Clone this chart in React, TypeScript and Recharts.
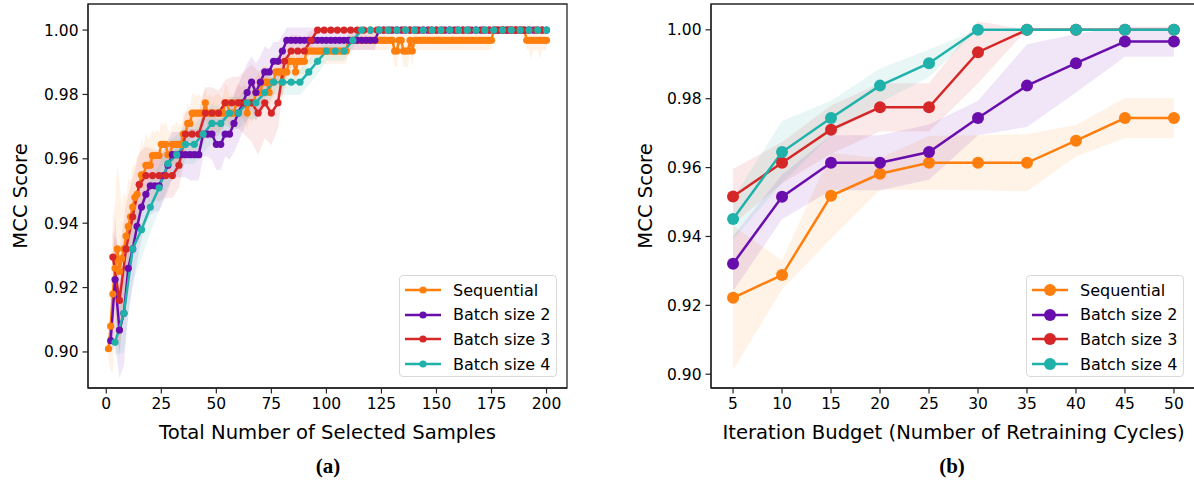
import { ComposedChart, Line, Area, XAxis, YAxis, ReferenceArea } from 'recharts';

const ORANGE = '#ff7f0e';
const PURPLE = '#6a0dad';
const RED = '#d62728';
const TEAL = '#20b2aa';

const SERIES_NAMES = ['Sequential', 'Batch size 2', 'Batch size 3', 'Batch size 4'];
const COLORS = [ORANGE, PURPLE, RED, TEAL];

// ---- panel (a): MCC vs total number of selected samples ----
const SAMPLE_TICKS = [0, 25, 50, 75, 100, 125, 150, 175, 200];
const MCC_TICKS = [0.9, 0.92, 0.94, 0.96, 0.98, 1.0];

// sequential, one point per sample (x = 1..200)
const seqMean = [
    0.901, 0.908, 0.918, 0.926, 0.932, 0.925, 0.929, 0.932, 0.936, 0.939,
    0.942, 0.945, 0.948, 0.949, 0.952, 0.955, 0.955, 0.958, 0.958, 0.958,
    0.961, 0.961, 0.961, 0.961, 0.9645, 0.9645, 0.9645, 0.9613, 0.9613, 0.9645,
    0.9645, 0.9645, 0.9645, 0.9645, 0.9677, 0.9677, 0.971, 0.971, 0.9742, 0.9742,
    0.9742, 0.9742, 0.9742, 0.9742, 0.9774, 0.9742, 0.9742, 0.9742, 0.9742, 0.9742,
    0.9742, 0.9742, 0.9742, 0.9774, 0.9774, 0.9742, 0.9742, 0.9742, 0.9774, 0.9774,
    0.9774, 0.9774, 0.9774, 0.9742, 0.9774, 0.9774, 0.9774, 0.9806, 0.9806, 0.9806,
    0.9838, 0.9838, 0.9838, 0.9806, 0.9838, 0.9838, 0.987, 0.987, 0.987, 0.9838,
    0.987, 0.987, 0.9903, 0.9903, 0.9903, 0.987, 0.9903, 0.9903, 0.9903, 0.9903,
    0.9935, 0.9935, 0.9935, 0.9935, 0.9935, 0.9935, 0.9935, 0.9935, 0.9935, 0.9935,
    0.9935, 0.9935, 0.9935, 0.9935, 0.9935, 0.9935, 0.9935, 0.9935, 0.9935, 0.9968,
    0.9968, 0.9968, 0.9968, 0.9968, 0.9968, 0.9968, 0.9968, 0.9968, 0.9968, 0.9968,
    0.9968, 0.9968, 0.9968, 0.9968, 0.9968, 0.9968, 0.9968, 0.9968, 0.9968, 0.9968,
    0.9935, 0.9935, 0.9968, 0.9968, 0.9935, 0.9935, 0.9935, 0.9968, 0.9935, 0.9968,
    0.9968, 0.9968, 0.9968, 0.9968, 0.9968, 0.9968, 0.9968, 0.9968, 0.9968, 0.9968,
    0.9968, 0.9968, 0.9968, 0.9968, 0.9968, 0.9968, 0.9968, 0.9968, 0.9968, 0.9968,
    0.9968, 0.9968, 0.9968, 0.9968, 0.9968, 0.9968, 0.9968, 0.9968, 0.9968, 0.9968,
    0.9968, 0.9968, 0.9968, 0.9968, 0.9968, 1.0, 1.0, 1.0, 1.0, 1.0,
    1.0, 1.0, 1.0, 1.0, 1.0, 1.0, 1.0, 1.0, 1.0, 1.0,
    0.9968, 0.9968, 0.9968, 0.9968, 0.9968, 0.9968, 0.9968, 0.9968, 0.9968, 0.9968,
];
const seqStd = [
    0.003, 0.014, 0.024, 0.02, 0.026, 0.028, 0.016, 0.018, 0.012, 0.015,
    0.011, 0.013, 0.01, 0.012, 0.009, 0.011, 0.009, 0.01, 0.008, 0.009,
    0.008, 0.007, 0.008, 0.007, 0.007, 0.006, 0.007, 0.008, 0.007, 0.006,
    0.006, 0.007, 0.006, 0.006, 0.007, 0.006, 0.006, 0.005, 0.006, 0.006,
    0.005, 0.006, 0.005, 0.006, 0.005, 0.005, 0.006, 0.005, 0.005, 0.006,
    0.006, 0.005, 0.005, 0.006, 0.005, 0.005, 0.006, 0.005, 0.005, 0.006,
    0.005, 0.005, 0.006, 0.005, 0.005, 0.006, 0.005, 0.005, 0.006, 0.005,
    0.005, 0.005, 0.005, 0.006, 0.005, 0.005, 0.005, 0.005, 0.006, 0.005,
    0.005, 0.005, 0.004, 0.004, 0.004, 0.005, 0.004, 0.004, 0.004, 0.004,
    0.004, 0.004, 0.004, 0.004, 0.004, 0.004, 0.004, 0.004, 0.004, 0.004,
    0.004, 0.004, 0.004, 0.004, 0.004, 0.004, 0.004, 0.004, 0.004, 0.003,
    0.003, 0.003, 0.003, 0.003, 0.003, 0.003, 0.003, 0.003, 0.003, 0.003,
    0.003, 0.003, 0.003, 0.003, 0.003, 0.003, 0.003, 0.003, 0.003, 0.003,
    0.005, 0.005, 0.003, 0.003, 0.005, 0.005, 0.005, 0.003, 0.005, 0.003,
    0.003, 0.003, 0.003, 0.003, 0.003, 0.003, 0.003, 0.003, 0.003, 0.003,
    0.003, 0.003, 0.003, 0.003, 0.003, 0.003, 0.003, 0.003, 0.003, 0.003,
    0.003, 0.003, 0.003, 0.003, 0.003, 0.003, 0.003, 0.003, 0.003, 0.003,
    0.003, 0.003, 0.003, 0.003, 0.003, 0, 0, 0, 0, 0,
    0, 0, 0, 0, 0, 0, 0, 0, 0, 0,
    0.003, 0.003, 0.006, 0.003, 0.003, 0.003, 0.006, 0.003, 0.003, 0.003,
];

// batch size 2 (x = 2, 4, ..., 200)
const b2Mean = [
    0.9035, 0.9225, 0.9068, 0.912, 0.926, 0.932, 0.939, 0.945, 0.949, 0.9516,
    0.9516, 0.9516, 0.9548, 0.958, 0.9613, 0.9613, 0.9613, 0.9613, 0.9613, 0.9613,
    0.9613, 0.9677, 0.9677, 0.9677, 0.9645, 0.9645, 0.9677, 0.9677, 0.971, 0.9742,
    0.9774, 0.9806, 0.9838, 0.9806, 0.9838, 0.987, 0.987, 0.9903, 0.9903, 0.9935,
    0.9968, 0.9968, 0.9968, 0.9968, 0.9968, 0.9968, 0.9968, 0.9968, 0.9968, 0.9968,
    0.9968, 0.9968, 0.9968, 0.9968, 0.9968, 0.9968, 0.9968, 0.9968, 0.9968, 0.9968,
    0.9968, 1.0, 1.0, 1.0, 1.0, 1.0, 1.0, 1.0, 1.0, 1.0,
    1.0, 1.0, 1.0, 1.0, 1.0, 1.0, 1.0, 1.0, 1.0, 1.0,
    1.0, 1.0, 1.0, 1.0, 1.0, 1.0, 1.0, 1.0, 1.0, 1.0,
    1.0, 1.0, 1.0, 1.0, 1.0, 1.0, 1.0, 1.0, 1.0, 1.0,
];
const b2Std = [
    0.004, 0.02, 0.015, 0.016, 0.014, 0.012, 0.011, 0.01, 0.009, 0.009,
    0.008, 0.008, 0.008, 0.008, 0.007, 0.007, 0.007, 0.007, 0.008, 0.008,
    0.008, 0.007, 0.007, 0.008, 0.008, 0.008, 0.007, 0.008, 0.009, 0.009,
    0.009, 0.009, 0.008, 0.009, 0.008, 0.008, 0.007, 0.006, 0.006, 0.005,
    0.004, 0.004, 0.004, 0.004, 0.004, 0.004, 0.004, 0.003, 0.003, 0.003,
    0.003, 0.003, 0.003, 0.003, 0.003, 0.003, 0.003, 0.003, 0.003, 0.003,
    0.003, 0, 0, 0, 0, 0, 0, 0, 0, 0,
    0, 0, 0, 0, 0, 0, 0, 0, 0, 0,
    0, 0, 0, 0, 0, 0, 0, 0, 0, 0,
    0, 0, 0, 0, 0, 0, 0, 0, 0, 0,
];

// batch size 3 (x = 3, 6, ..., 198)
const b3Mean = [
    0.9295, 0.916, 0.932, 0.942, 0.952, 0.9548, 0.9548, 0.9548, 0.9548, 0.9548,
    0.958, 0.9677, 0.9677, 0.9677, 0.9742, 0.9742, 0.9742, 0.9774, 0.9774, 0.9774,
    0.9774, 0.9774, 0.9742, 0.9774, 0.9742, 0.9774, 0.9903, 0.9935, 0.9935, 0.9935,
    0.9968, 1.0, 1.0, 1.0, 1.0, 1.0, 1.0, 1.0, 1.0, 1.0,
    1.0, 1.0, 1.0, 1.0, 1.0, 1.0, 1.0, 1.0, 1.0, 1.0,
    1.0, 1.0, 1.0, 1.0, 1.0, 1.0, 1.0, 1.0, 1.0, 1.0,
    1.0, 1.0, 1.0, 1.0, 1.0, 1.0,
];
const b3Std = [
    0.008, 0.016, 0.014, 0.012, 0.01, 0.009, 0.008, 0.008, 0.007, 0.007,
    0.007, 0.007, 0.007, 0.007, 0.008, 0.008, 0.007, 0.007, 0.008, 0.008,
    0.01, 0.012, 0.013, 0.011, 0.01, 0.008, 0.006, 0.005, 0.005, 0.004,
    0.003, 0, 0, 0, 0, 0, 0, 0, 0, 0,
    0, 0, 0, 0, 0, 0, 0, 0, 0, 0,
    0, 0, 0, 0, 0, 0, 0, 0, 0, 0,
    0, 0, 0, 0, 0, 0,
];

// batch size 4 (x = 4, 8, ..., 200)
const b4Mean = [
    0.903, 0.912, 0.932, 0.938, 0.945, 0.951, 0.9585, 0.9613, 0.9645, 0.9645,
    0.9677, 0.971, 0.971, 0.9742, 0.9742, 0.9774, 0.9774, 0.9806, 0.9838, 0.9838,
    0.9838, 0.9838, 0.987, 0.9903, 0.9935, 0.9935, 0.9935, 0.9968, 1.0, 1.0,
    1.0, 1.0, 1.0, 1.0, 1.0, 1.0, 1.0, 1.0, 1.0, 1.0,
    1.0, 1.0, 1.0, 1.0, 1.0, 1.0, 1.0, 1.0, 1.0, 1.0,
];
const b4Std = [
    0.004, 0.012, 0.01, 0.009, 0.008, 0.007, 0.007, 0.006, 0.006, 0.006,
    0.006, 0.006, 0.005, 0.005, 0.005, 0.005, 0.005, 0.005, 0.004, 0.004,
    0.004, 0.004, 0.004, 0.004, 0.003, 0.003, 0.003, 0.003, 0, 0,
    0, 0, 0, 0, 0, 0, 0, 0, 0, 0,
    0, 0, 0, 0, 0, 0, 0, 0, 0, 0,
];

// ---- panel (b): MCC vs iteration budget ----
const ITERATIONS = [5, 10, 15, 20, 25, 30, 35, 40, 45, 50];
const seqIterMean = [0.9222, 0.9288, 0.9518, 0.9582, 0.9614, 0.9614, 0.9614, 0.9678, 0.9744, 0.9744];
const seqIterStd = [0.021, 0.0042, 0.0124, 0.0046, 0.0078, 0.008, 0.0083, 0.0046, 0.0058, 0.0058];
const b2IterMean = [0.9321, 0.9515, 0.9614, 0.9614, 0.9645, 0.9744, 0.9838, 0.9903, 0.9966, 0.9966];
const b2IterStd = [0.008, 0.0065, 0.008, 0.008, 0.008, 0.005, 0.012, 0.0085, 0.0044, 0.0044];
const b3IterMean = [0.9516, 0.9614, 0.971, 0.9775, 0.9775, 0.9935, 1.0, 1.0, 1.0, 1.0];
const b3IterStd = [0.008, 0.006, 0.007, 0.007, 0.007, 0.009, 0, 0, 0, 0];
const b4IterMean = [0.9451, 0.9645, 0.9744, 0.9838, 0.9903, 1.0, 1.0, 1.0, 1.0, 1.0];
const b4IterStd = [0.006, 0.009, 0.005, 0.005, 0.004, 0, 0, 0, 0, 0];

type Row = { x: number; y: number; band: [number, number] };

const toRows = (xs: number[], mean: number[], std: number[]): Row[] =>
    mean.map((m, i) => ({ x: xs[i], y: m, band: [m - std[i], m + std[i]] }));

const stepXs = (step: number, n: number) => Array.from({ length: n }, (_, i) => (i + 1) * step);

const panelA = [
    toRows(stepXs(1, seqMean.length), seqMean, seqStd),
    toRows(stepXs(2, b2Mean.length), b2Mean, b2Std),
    toRows(stepXs(3, b3Mean.length), b3Mean, b3Std),
    toRows(stepXs(4, b4Mean.length), b4Mean, b4Std),
];

const panelB = [
    toRows(ITERATIONS, seqIterMean, seqIterStd),
    toRows(ITERATIONS, b2IterMean, b2IterStd),
    toRows(ITERATIONS, b3IterMean, b3IterStd),
    toRows(ITERATIONS, b4IterMean, b4IterStd),
];

const FONT = '"DejaVu Sans", sans-serif';
const AXIS_COLOR = '#262626';
const tickStyle = { fill: '#000', fontSize: 15.5, fontFamily: FONT };

type PanelProps = {
    series: Row[][];
    xDomain: [number, number];
    yDomain: [number, number];
    xTicks: number[];
    width: number;
    margin: { top: number; right: number; bottom: number; left: number };
    dotR: number;
};

function Panel({ series, xDomain, yDomain, xTicks, width, margin, dotR }: PanelProps) {
    return (
        <ComposedChart width={width} height={486} margin={margin}>
            <XAxis
                type="number"
                dataKey="x"
                domain={xDomain}
                ticks={xTicks}
                allowDataOverflow
                tick={tickStyle}
                tickSize={5.5}
                tickMargin={4}
                height={30}
                axisLine={{ stroke: AXIS_COLOR, strokeWidth: 1.3 }}
                tickLine={{ stroke: AXIS_COLOR, strokeWidth: 1.2 }}
            />
            <YAxis
                type="number"
                domain={yDomain}
                ticks={MCC_TICKS}
                allowDataOverflow
                tickFormatter={(v: number) => v.toFixed(2)}
                tick={tickStyle}
                tickSize={5.5}
                tickMargin={4}
                width={60}
                axisLine={{ stroke: AXIS_COLOR, strokeWidth: 1.3 }}
                tickLine={{ stroke: AXIS_COLOR, strokeWidth: 1.2 }}
            />
            {series.flatMap((rows, i) => [
                <Area
                    key={`band-${i}`}
                    data={rows}
                    dataKey="band"
                    type="linear"
                    stroke="none"
                    fill={COLORS[i]}
                    fillOpacity={0.1}
                    isAnimationActive={false}
                    activeDot={false}
                />,
                <Line
                    key={`line-${i}`}
                    data={rows}
                    dataKey="y"
                    type="linear"
                    stroke={COLORS[i]}
                    strokeWidth={2.5}
                    dot={{ r: dotR, fill: COLORS[i], stroke: COLORS[i], strokeWidth: 0 }}
                    activeDot={false}
                    isAnimationActive={false}
                />,
            ])}
            <ReferenceArea
                x1={xDomain[0]}
                x2={xDomain[1]}
                y1={yDomain[0]}
                y2={yDomain[1]}
                fill="none"
                stroke={AXIS_COLOR}
                strokeWidth={1.3}
                ifOverflow="visible"
            />
        </ComposedChart>
    );
}

function LegendBox({ left, top, dotR }: { left: number; top: number; dotR: number }) {
    return (
        <div
            style={{
                position: 'absolute',
                left,
                top,
                width: 158,
                height: 102,
                border: '1px solid #d9d9d9',
                borderRadius: 4,
                background: 'rgba(255,255,255,0.85)',
                boxSizing: 'border-box',
            }}
        >
            {SERIES_NAMES.map((name, i) => (
                <div
                    key={name}
                    style={{ position: 'absolute', left: 4, top: 2 + i * 24.7, height: 24, display: 'flex', alignItems: 'center' }}
                >
                    <svg width={38} height={14}>
                        <line x1={1} y1={7} x2={37} y2={7} stroke={COLORS[i]} strokeWidth={2.5} />
                        <circle cx={19} cy={7} r={dotR} fill={COLORS[i]} />
                    </svg>
                    <span style={{ marginLeft: 11, fontFamily: FONT, fontSize: 16, color: '#000', whiteSpace: 'nowrap' }}>{name}</span>
                </div>
            ))}
        </div>
    );
}

const textBase = { position: 'absolute' as const, fontFamily: FONT, color: '#000', whiteSpace: 'nowrap' as const };

export default function App() {
    return (
        <div style={{ position: 'absolute', left: 0, top: 0, width: 1194, height: 486, overflow: 'hidden', background: '#fff' }}>
            <div style={{ position: 'absolute', left: 0, top: 0 }}>
                <Panel
                    series={panelA}
                    xDomain={[-8.3, 209.3]}
                    yDomain={[0.8888, 1.0081]}
                    xTicks={SAMPLE_TICKS}
                    width={600}
                    margin={{ top: 4, right: 33, bottom: 68, left: 28 }}
                    dotR={3.6}
                />
            </div>
            <div style={{ position: 'absolute', left: 620, top: 0 }}>
                <Panel
                    series={panelB}
                    xDomain={[2.75, 52.25]}
                    yDomain={[0.896, 1.0075]}
                    xTicks={ITERATIONS}
                    width={580}
                    margin={{ top: 4, right: 4, bottom: 68, left: 31 }}
                    dotR={6}
                />
            </div>

            <LegendBox left={399} top={275} dotR={3.6} />
            <LegendBox left={1026} top={275} dotR={6} />

            <div style={{ ...textBase, left: 20, top: 196, fontSize: 19.6, transform: 'translate(-50%, -50%) rotate(-90deg)' }}>MCC Score</div>
            <div style={{ ...textBase, left: 645, top: 196, fontSize: 19.6, transform: 'translate(-50%, -50%) rotate(-90deg)' }}>MCC Score</div>

            <div style={{ ...textBase, left: 327.5, top: 432, fontSize: 19.6, transform: 'translate(-50%, -50%)' }}>
                Total Number of Selected Samples
            </div>
            <div style={{ ...textBase, left: 953.5, top: 432, fontSize: 19.6, transform: 'translate(-50%, -50%)' }}>
                Iteration Budget (Number of Retraining Cycles)
            </div>

            <div style={{ ...textBase, left: 328, top: 466, fontSize: 21, fontWeight: 'bold', fontFamily: '"Liberation Serif", serif', transform: 'translate(-50%, -50%)' }}>(a)</div>
            <div style={{ ...textBase, left: 952, top: 466, fontSize: 21, fontWeight: 'bold', fontFamily: '"Liberation Serif", serif', transform: 'translate(-50%, -50%)' }}>(b)</div>
        </div>
    );
}
